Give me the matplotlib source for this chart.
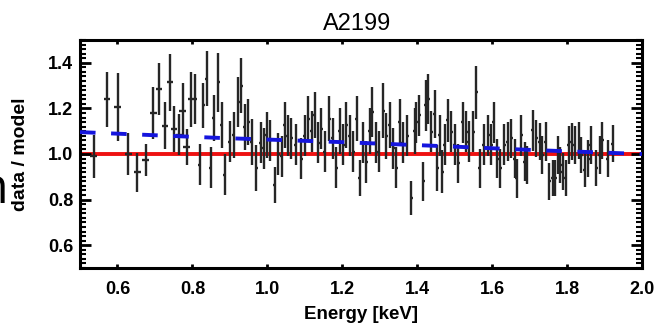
import matplotlib
matplotlib.use("Agg")
import matplotlib.pyplot as plt
from matplotlib.ticker import MultipleLocator
import numpy as np

# binned data / model ratio for A2199
energy = [0.537, 0.572, 0.601, 0.629, 0.653, 0.675, 0.696, 0.711, 0.727, 0.740,
          0.751, 0.764, 0.774, 0.785, 0.796,
          0.807, 0.820, 0.829, 0.838, 0.849, 0.857, 0.869, 0.878, 0.887, 0.900,
          0.911, 0.922, 0.931, 0.940, 0.949, 0.958, 0.971, 0.982, 0.990, 0.999,
          1.008, 1.020, 1.029, 1.038, 1.047, 1.055, 1.064, 1.076,
          1.091, 1.100, 1.109, 1.118, 1.127, 1.136, 1.144, 1.153, 1.165, 1.174,
          1.184, 1.193, 1.202, 1.211, 1.220, 1.229, 1.238, 1.247, 1.256, 1.264,
          1.273, 1.280, 1.289, 1.298, 1.309, 1.318, 1.327, 1.336, 1.344, 1.353,
          1.362, 1.373, 1.384, 1.393,
          1.398, 1.405, 1.416, 1.423, 1.430, 1.438, 1.447, 1.453, 1.460, 1.467,
          1.473, 1.482, 1.491, 1.500, 1.509, 1.522, 1.531, 1.538, 1.549, 1.558,
          1.567, 1.577, 1.589, 1.598, 1.604, 1.613, 1.622, 1.632, 1.642, 1.651,
          1.660, 1.666, 1.678, 1.687,
          1.693, 1.709, 1.718, 1.727, 1.734, 1.743, 1.753, 1.762, 1.769, 1.776,
          1.782, 1.789, 1.796, 1.805, 1.812, 1.820, 1.832, 1.838, 1.847, 1.856,
          1.863, 1.878, 1.887, 1.894, 1.909, 1.922]

ratio = [0.99, 1.24, 1.205, 1.00, 0.92, 0.975, 1.18, 1.285, 1.125, 1.315,
         1.11, 1.085, 1.19, 1.03, 1.24,
         1.24, 0.952, 1.213, 1.33, 0.94, 1.157, 1.314, 1.126, 0.909, 1.053,
         1.083, 1.227, 1.30, 1.119, 1.14, 1.053, 0.938, 1.05, 1.026, 1.083,
         1.06, 0.865, 1.00, 0.99, 1.126, 1.08, 1.07, 1.04,
         0.98, 1.08, 1.155, 1.10, 1.17, 1.05, 1.11, 1.01, 1.155, 1.07,
         0.94, 1.10, 1.04, 1.126, 1.08, 1.01, 1.155, 0.895, 1.05, 0.965,
         1.10, 1.185, 1.05, 1.01, 1.19, 1.08, 1.126, 1.025, 0.94, 1.14,
         1.05, 1.08, 0.807, 1.10,
         1.14, 1.17, 0.88, 1.213, 1.242, 1.097, 1.177, 0.938, 1.083, 0.923,
         1.04, 1.148, 1.097, 1.04, 0.96, 1.14, 1.097, 1.054, 1.097, 1.27,
         0.938, 1.04, 1.083, 1.04, 1.14, 0.98, 0.938, 1.04, 1.054, 1.068,
         0.98, 0.894, 1.083, 0.967,
         0.952, 1.104, 1.068, 1.054, 0.996, 1.054, 0.88, 0.894, 0.894, 0.996,
         0.952, 0.923, 0.894, 1.04, 1.054, 1.04, 1.06, 0.996, 0.93, 0.98,
         1.04, 0.938, 0.996, 1.06, 0.98, 1.046]

ratio_err = [0.095, 0.12, 0.15, 0.09, 0.085, 0.07, 0.115, 0.115, 0.105, 0.125,
             0.10, 0.09, 0.12, 0.08, 0.12,
             0.11, 0.09, 0.10, 0.12, 0.09, 0.10, 0.13, 0.10, 0.09, 0.09,
             0.10, 0.11, 0.12, 0.10, 0.10, 0.10, 0.10, 0.09, 0.09, 0.10,
             0.09, 0.08, 0.09, 0.09, 0.10, 0.09, 0.09, 0.09,
             0.09, 0.09, 0.10, 0.09, 0.10, 0.09, 0.09, 0.09, 0.10, 0.09,
             0.09, 0.10, 0.09, 0.10, 0.09, 0.09, 0.10, 0.08, 0.09, 0.09,
             0.10, 0.11, 0.09, 0.09, 0.12, 0.10, 0.10, 0.09, 0.09, 0.10,
             0.09, 0.09, 0.075, 0.10,
             0.09, 0.09, 0.085, 0.11, 0.11, 0.09, 0.105, 0.10, 0.09, 0.095,
             0.09, 0.095, 0.09, 0.09, 0.085, 0.09, 0.09, 0.09, 0.09, 0.115,
             0.085, 0.09, 0.09, 0.09, 0.09, 0.085, 0.085, 0.09, 0.085, 0.085,
             0.085, 0.085, 0.09, 0.085,
             0.085, 0.09, 0.08, 0.08, 0.085, 0.085, 0.08, 0.08, 0.08, 0.085,
             0.08, 0.08, 0.08, 0.085, 0.08, 0.085, 0.08, 0.08, 0.075, 0.08,
             0.085, 0.08, 0.085, 0.08, 0.08, 0.08]

# ratio of the alternative model to the best fit (blue dashed)
model_energy = [0.5, 0.865, 1.2, 1.46, 1.715, 2.0]
model_ratio = [1.096, 1.071, 1.052, 1.035, 1.017, 1.0]

xticks = [0.6, 0.8, 1.0, 1.2, 1.4, 1.6, 1.8, 2.0]
yticks = [0.6, 0.8, 1.0, 1.2, 1.4]

energy = np.array(energy)
xerr = np.where(energy < 0.8, 0.009, 0.004)

plt.rcParams['font.family'] = ['Liberation Sans', 'DejaVu Sans']

fig = plt.figure(figsize=(6.56, 3.29), dpi=100)
ax = fig.add_axes([80/656, 61/329, 562/656, 228/329])

ax.axhline(1.0, color='#ee1111', lw=2.8, zorder=1)
ax.errorbar(energy, ratio, yerr=ratio_err, xerr=xerr, fmt='none',
            ecolor='#262626', elinewidth=1.7, capsize=0, zorder=2)
ax.plot(model_energy, model_ratio, color='#1515dd', lw=2.8,
        dashes=(4.0, 4.0), zorder=3)

ax.set_xlim(0.5, 2.0)
ax.set_ylim(0.5, 1.5)
ax.yaxis.set_minor_locator(MultipleLocator(0.02))
ax.set_xticks(xticks)
ax.set_xticklabels(['%.1f' % v for v in xticks])
ax.set_yticks(yticks)
ax.set_yticklabels(['%.1f' % v for v in yticks])

for s in ax.spines.values():
    s.set_linewidth(2.2)
ax.tick_params(axis='x', which='major', direction='in', top=True, bottom=True,
               length=3, width=2, pad=9, labelsize=13)
ax.tick_params(axis='y', which='major', direction='in', left=True, right=True,
               length=8, width=2, pad=5, labelsize=13)
ax.tick_params(axis='y', which='minor', direction='in', left=True, right=True,
               length=4, width=1.5)
for lab in ax.get_xticklabels() + ax.get_yticklabels():
    lab.set_fontweight('bold')

ax.set_xlabel('Energy [keV]', fontsize=13.5, fontweight='bold')
ax.xaxis.set_label_coords(0.5, -0.165)
ax.xaxis.label.set_va('top')
ax.set_ylabel('data / model', fontsize=14, fontweight='bold')
ax.yaxis.set_label_coords(-0.09, 0.5)
fig.text(357/656, 1 - 30/329, 'A2199', fontsize=17, ha='center', va='baseline')

# stray glyph cut off at the left edge of the original slide
fig.text(9/656, 1 - 203/329, 'n', fontsize=36, ha='right', va='baseline',
         family=['Open Sans', 'DejaVu Sans'])

fig.savefig('out.png', dpi=100)
